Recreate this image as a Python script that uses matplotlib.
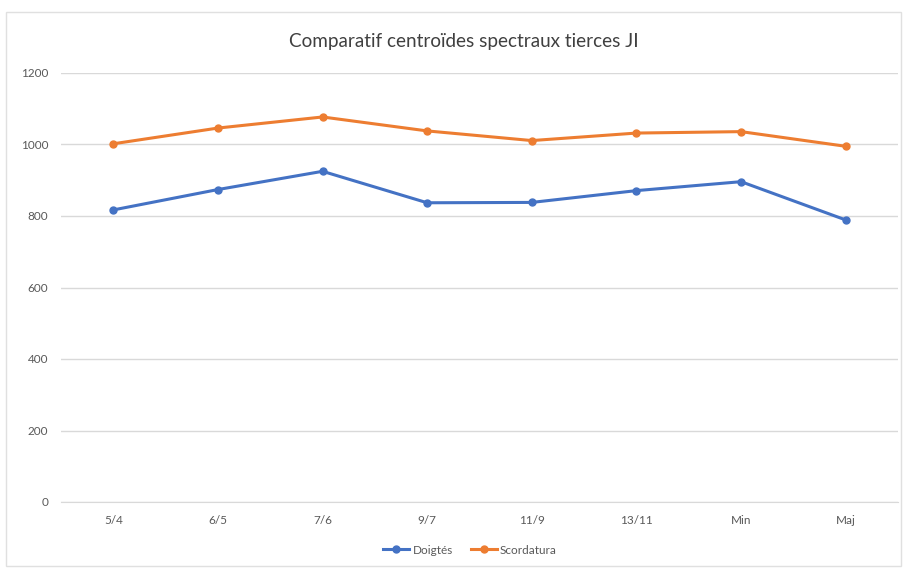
import matplotlib.pyplot as plt
from matplotlib.patches import Rectangle

categories = ['5/4', '6/5', '7/6', '9/7', '11/9', '13/11', 'Min', 'Maj']
doigtes = [817, 874, 925, 837, 838, 871, 896, 789]
scordatura = [1002, 1046, 1077, 1038, 1011, 1032, 1036, 995]
yticks = [0, 200, 400, 600, 800, 1000, 1200]

plt.rcParams['font.family'] = ['Lato', 'DejaVu Sans']

fig = plt.figure(figsize=(9.07, 5.72), dpi=100)
# light chart frame like the spreadsheet export
fig.patches.append(Rectangle((6/907, 1 - 566/572), 895/907, 554/572, transform=fig.transFigure,
                             fill=False, edgecolor='#e0e0e0', linewidth=1))

ax = fig.add_axes([61/907, 1 - 502/572, 837/907, 429/572])
x = range(len(categories))
ax.plot(x, doigtes, color='#4472C4', marker='o', markersize=5, linewidth=2.2, label='Doigtés')
ax.plot(x, scordatura, color='#ED7D31', marker='o', markersize=5, linewidth=2.2, label='Scordatura')

ax.set_xlim(-0.5, len(categories) - 0.5)
ax.set_ylim(0, 1200)
ax.set_yticks(yticks)
ax.set_xticks(list(x))
ax.set_xticklabels(categories)
ax.grid(axis='y', color='#d9d9d9', linewidth=1)
ax.set_axisbelow(True)
for s in ['top', 'right', 'left']:
    ax.spines[s].set_visible(False)
ax.spines['bottom'].set_color('#d9d9d9')
ax.tick_params(length=0, labelsize=8.5, colors='#595959', pad=9)

fig.text(464/907, 1 - 42/572, 'Comparatif centroïdes spectraux tierces JI', ha='center', va='center',
         fontsize=13.6, color='#404040')
fig.legend(loc='center', bbox_to_anchor=(470/907, 1 - 550/572), ncol=2, frameon=False,
           fontsize=8.5, labelcolor='#595959', handlelength=2.2, columnspacing=1.5, handletextpad=0.3)

fig.savefig('out.png', dpi=100)
